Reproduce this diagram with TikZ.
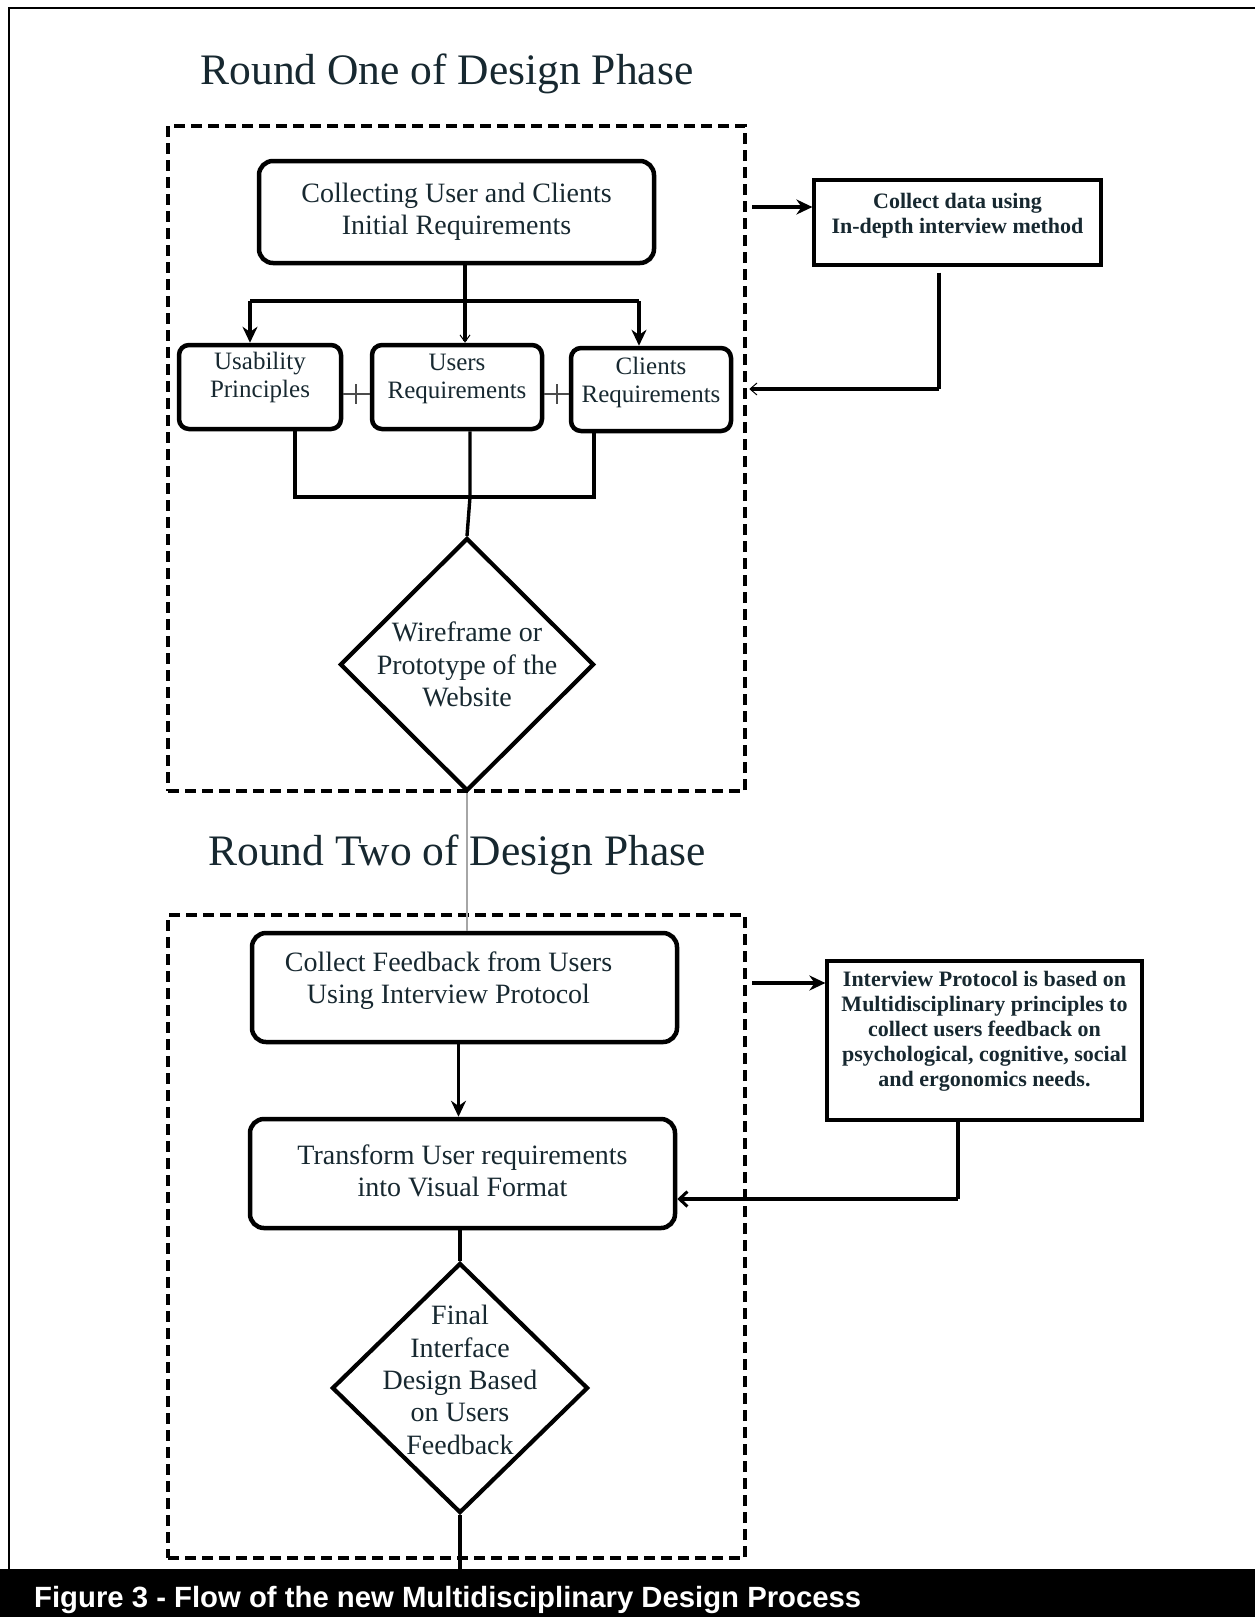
\documentclass[tikz,border=0pt]{standalone}
\usepackage{fontspec}
\setmainfont{Liberation Serif}
\newfontfamily\capfont{Liberation Sans}
\usepackage{xcolor}
\usepackage{tikz}
\usetikzlibrary{arrows.meta, positioning, shapes.geometric}
\definecolor{inktext}{RGB}{23,40,48}

\tikzset{
  procbox/.style={draw, line width=4.5pt, rounded corners=14pt, align=center,
    text=inktext, font=\fontsize{28}{32}\selectfont, inner sep=0pt},
  reqbox/.style={procbox, rounded corners=10pt, font=\fontsize{25}{28}\selectfont},
  notebox/.style={draw, line width=3.2pt, align=center, text=inktext,
    font=\bfseries\fontsize{22}{25}\selectfont, inner sep=0pt},
  decision/.style={diamond, draw, line width=4.2pt, inner sep=0pt},
  decisiontext/.style={align=center, text=inktext, font=\fontsize{28}{32.3}\selectfont, inner sep=0pt},
  phasebox/.style={draw, line width=4.5pt, dash pattern=on 11pt off 6pt},
  phasetitle/.style={text=inktext, font=\fontsize{43.5}{48}\selectfont, inner sep=0pt},
  conn/.style={line width=3.4pt},
  flow/.style={conn, -{Stealth[length=16pt,width=15pt]}},
  backflow/.style={conn, -{Straight Barb[length=7pt,width=12pt,line width=1pt]}},
  backflowbold/.style={conn, -{Straight Barb[length=8pt,width=15pt,line width=3pt]}},
  link/.style={line width=1.3pt, black!70},
  lift/.style={text depth=#1},
}

\begin{document}
\begin{tikzpicture}[x=1pt,y=-1pt]
  \useasboundingbox (0,0) rectangle (1255,1617);
  % frame and caption bar
  \draw[line width=2.5pt] (9,1569) -- (9,8) -- (1255,8);
  \fill (0,1569) rectangle (1255,1617);
  \node[anchor=base west, text=white, inner sep=0pt,
    font=\capfont\bfseries\fontsize{29.3}{34}\selectfont] (caption) at (34,1607)
    {Figure 3 - Flow of the new Multidisciplinary Design Process};

  % round one
  \node[phasetitle, anchor=base] (title1) at (447,84.5) {Round One of Design Phase};
  \node[phasebox, minimum width=577pt, minimum height=665pt] (phase1) at (456.5,458.5) {};
  \node[procbox, minimum width=395pt, minimum height=102pt] (collect) at (456.5,212)
    {Collecting User and Clients\\Initial Requirements};
  \node[notebox, minimum width=287pt, minimum height=85pt, lift=19pt] (interview) at (957.5,222.5)
    {Collect data using\\In-depth interview method};
  \node[reqbox, minimum width=162pt, minimum height=84pt, lift=25pt] (usab) at (260,387)
    {Usability\\Principles};
  \node[reqbox, minimum width=170pt, minimum height=84pt, lift=22pt] (users) at (457,387)
    {Users\\Requirements};
  \node[reqbox, minimum width=160pt, minimum height=83pt, lift=19pt] (clients) at (651,389.5)
    {Clients\\Requirements};
  \node[decision, minimum width=254pt, minimum height=253pt] (wire) at (467,664.5) {};
  \node[decisiontext] (wiretext) at (wire) {Wireframe or\\Prototype of the\\Website};

  \coordinate (stem) at (465,301);
  \coordinate (forkL) at (250,301);
  \coordinate (forkR) at (639,301);
  \draw[conn] (collect.south -| stem) -- (stem);
  \draw[conn] (forkL) -- (forkR);
  \draw[flow] (forkL) -- (forkL |- usab.north);
  \draw[flow] (forkR) -- (forkR |- clients.north);
  \draw[conn, -{Straight Barb[length=7pt,width=10pt,line width=1pt]}] (stem) -- (stem |- users.north);

  \draw[link] (usab.east |- 0,394) -- (users.west |- 0,394);
  \draw[link] (356,384) -- (356,404);
  \draw[link] (users.east |- 0,394) -- (clients.west |- 0,394);
  \draw[link] (557,384) -- (557,404);

  \draw[flow] ([xshift=5pt]phase1.east |- 0,207) -- (interview.west |- 0,207);
  \coordinate (ret1) at (939,389);
  \draw[conn] ([yshift=-6pt]interview.south -| ret1) -- (ret1);
  \draw[backflow] (ret1) -- ([xshift=2pt]phase1.east |- ret1);

  \coordinate (merge) at (470,497);
  \draw[conn] (usab.south -| 295,0) -- (295,497) -- (594,497) -- (clients.south -| 594,0);
  \draw[conn] (users.south -| merge) -- (merge) -- (wire.north);

  % round two
  \node[phasetitle, anchor=base] (title2) at (457,865) {Round Two of Design Phase};
  \node[phasebox, minimum width=577pt, minimum height=643pt] (phase2) at (456.5,1236.5) {};
  \node[procbox, minimum width=425pt, minimum height=109pt, lift=20pt] (feedback) at (464.5,987.5)
    {Collect Feedback from Users\hspace*{32pt}\\Using Interview Protocol\hspace*{32pt}};
  \node[notebox, minimum width=315pt, minimum height=159pt, lift=24pt] (protocol) at (984.5,1040.5)
    {Interview Protocol is based on\\Multidisciplinary principles to\\collect users feedback on\\
     psychological, cognitive, social\\and ergonomics needs.};
  \node[procbox, minimum width=425pt, minimum height=109pt, lift=5pt] (transform) at (462.5,1173.5)
    {Transform User requirements\\into Visual Format};
  \node[decision, minimum width=256pt, minimum height=250pt] (final) at (460,1388) {};
  \node[decisiontext] (finaltext) at ([yshift=8pt]final.center)
    {Final\\Interface\\Design Based\\on Users\\Feedback};

  \draw[gray!70, line width=2pt] (wire.south) -- (wire.south |- feedback.north);
  \draw[flow] ([xshift=5pt]phase2.east |- 0,983) -- (protocol.west |- 0,983);
  \draw[flow] ([xshift=-6pt]feedback.south) -- ([xshift=-6pt]feedback.south |- transform.north);
  \coordinate (ret2) at (958,1199);
  \draw[conn] (protocol.south -| ret2) -- (ret2);
  \draw[backflowbold] (ret2) -- (transform.east |- ret2);
  \coordinate (bartop) at (460,1569);
  \draw[conn] (transform.south -| final.north) -- (final.north);
  \draw[conn] (final.south) -- (bartop);
\end{tikzpicture}
\end{document}
